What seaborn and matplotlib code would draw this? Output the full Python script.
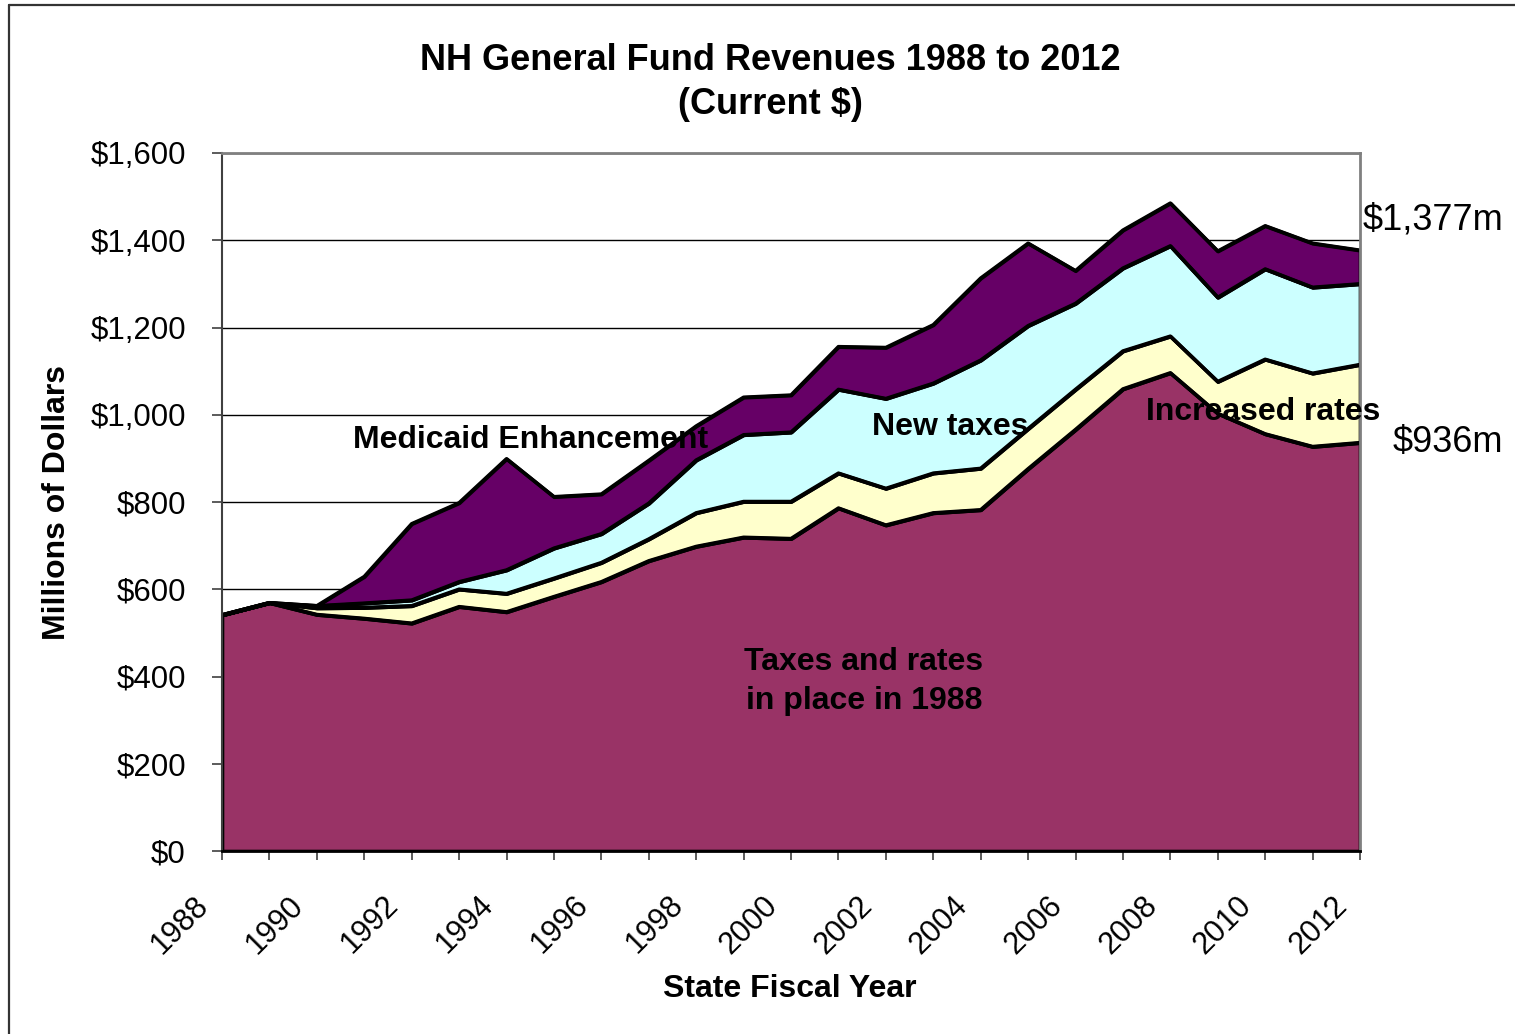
import matplotlib
matplotlib.use("Agg")
import numpy as np
import pandas as pd
import matplotlib.pyplot as plt
import seaborn as sns
from matplotlib.transforms import ScaledTranslation
from matplotlib.lines import Line2D

# State fiscal years
years = list(range(1988, 2013))

# Revenue components, millions of current dollars (stacked bottom to top)
taxes_in_place_1988 = [541, 569, 542, 533, 522, 560, 548, 583, 617, 665, 698, 719, 716,
                       786, 747, 775, 782, 876, 966, 1059, 1096, 1003, 956, 927, 936]
increased_rates = [0, 0, 15, 25, 40, 40, 42, 42, 44, 50, 77, 82, 85,
                   80, 84, 91, 95, 92, 92, 87, 84, 73, 171, 168, 179]
new_taxes = [0, 0, 5, 10, 13, 17, 54, 69, 66, 82, 121, 153, 159,
             192, 206, 206, 248, 236, 197, 190, 207, 193, 207, 197, 185]
medicaid_enhancement = [0, 0, 0, 61, 175, 181, 255, 118, 91, 98, 78, 86, 85,
                        98, 117, 134, 188, 189, 75, 87, 98, 106, 99, 101, 77]

layer_names = ["Taxes and rates in place in 1988", "Increased rates",
               "New taxes", "Medicaid Enhancement"]
layer_colors = ["#993366", "#FFFFCC", "#CCFFFF", "#660066"]

df = pd.DataFrame({
    "year": years,
    layer_names[0]: taxes_in_place_1988,
    layer_names[1]: increased_rates,
    layer_names[2]: new_taxes,
    layer_names[3]: medicaid_enhancement,
})
cum = df[layer_names].cumsum(axis=1)

sns.set_theme(style="white")
plt.rcParams["font.family"] = ["Liberation Sans", "DejaVu Sans"]

W, H = 1515, 1034
fig = plt.figure(figsize=(W / 100, H / 100), dpi=100)
fig.patch.set_facecolor("white")
ax = fig.add_axes([222 / W, 1 - 851 / H, (1360 - 222) / W, (851 - 153) / H])
ax.set_facecolor("white")

# Stacked areas with black outlines
lower = np.zeros(len(df))
for name, color in zip(layer_names, layer_colors):
    upper = cum[name].to_numpy()
    ax.fill_between(df["year"], lower, upper, facecolor=color,
                    edgecolor="black", linewidth=2.6, zorder=3)
    lower = upper

# Boundary lines drawn over the fills
long = cum.assign(year=df["year"]).melt(id_vars="year", var_name="layer", value_name="value")
sns.lineplot(data=long, x="year", y="value", units="layer", estimator=None,
             color="black", linewidth=2.6, ax=ax, zorder=4, legend=False)

ax.set_xlim(1988, 2012)
ax.set_ylim(0, 1600)
ax.set_xlabel("")
ax.set_ylabel("")

ax.set_yticks(range(0, 1601, 200))
ax.set_yticklabels([f"${v:,}" for v in range(0, 1601, 200)])
ax.set_xticks(years)
ax.set_xticklabels([str(y) if y % 2 == 0 else "" for y in years])

ax.yaxis.grid(True, color="black", linewidth=1.0)
ax.xaxis.grid(False)
ax.set_axisbelow(True)

ax.tick_params(axis="y", direction="out", length=7, width=1.2, color="#404040",
               labelsize=22.5, labelcolor="black", pad=19, left=True)
ax.tick_params(axis="x", direction="out", length=6.5, width=1.2, color="#404040",
               labelsize=22, labelcolor="black", pad=33.5, bottom=True)
offset = ScaledTranslation(-0.12, 0, fig.dpi_scale_trans)
for lab in ax.get_xticklabels():
    lab.set_rotation(45)
    lab.set_ha("right")
    lab.set_va("baseline")
    lab.set_rotation_mode("anchor")
    lab.set_transform(lab.get_transform() + offset)

for side in ["top", "right"]:
    ax.spines[side].set_color("#808080")
    ax.spines[side].set_linewidth(2)
ax.spines["left"].set_color("#404040")
ax.spines["left"].set_linewidth(1.5)
ax.spines["bottom"].set_color("black")
ax.spines["bottom"].set_linewidth(2)
for s in ax.spines.values():
    s.set_zorder(5)

def fx(px):
    return px / W

def fy(py):
    return 1 - py / H

# Titles
fig.text(fx(770), fy(60), "NH General Fund Revenues 1988 to 2012", ha="center", va="center",
         fontsize=26, fontweight="bold", color="black")
fig.text(fx(770), fy(104), "(Current $)", ha="center", va="center",
         fontsize=26, fontweight="bold", color="black")
fig.text(fx(57), fy(503), "Millions of Dollars", rotation=90, ha="center", va="center",
         fontsize=23, fontweight="bold", color="black")
fig.text(fx(790), fy(989), "State Fiscal Year", ha="center", va="center",
         fontsize=23, fontweight="bold", color="black")

# Layer annotations
fig.text(fx(531), fy(440), layer_names[3], ha="center", va="center",
         fontsize=23, fontweight="bold", color="black")
fig.text(fx(950), fy(427), layer_names[2], ha="center", va="center",
         fontsize=23, fontweight="bold", color="black")
fig.text(fx(1263), fy(412), layer_names[1], ha="center", va="center",
         fontsize=23, fontweight="bold", color="black")
fig.text(fx(864), fy(662), "Taxes and rates", ha="center", va="center",
         fontsize=23, fontweight="bold", color="black")
fig.text(fx(864), fy(701), "in place in 1988", ha="center", va="center",
         fontsize=23, fontweight="bold", color="black")

# End-of-period values
total_end = int(cum[layer_names[3]].iloc[-1])
base_end = int(cum[layer_names[0]].iloc[-1])
fig.text(fx(1503), fy(220), f"${total_end:,}m", ha="right", va="center",
         fontsize=26, color="black")
fig.text(fx(1503), fy(442), f"${base_end:,}m", ha="right", va="center",
         fontsize=26, color="black")

# Chart frame
fig.add_artist(Line2D([fx(9), fx(9)], [fy(5), 0], transform=fig.transFigure,
                      color="#333333", linewidth=1.6))
fig.add_artist(Line2D([fx(9), 1], [fy(5), fy(5)], transform=fig.transFigure,
                      color="#333333", linewidth=1.6))

fig.savefig("out.png", dpi=100, facecolor="white")
